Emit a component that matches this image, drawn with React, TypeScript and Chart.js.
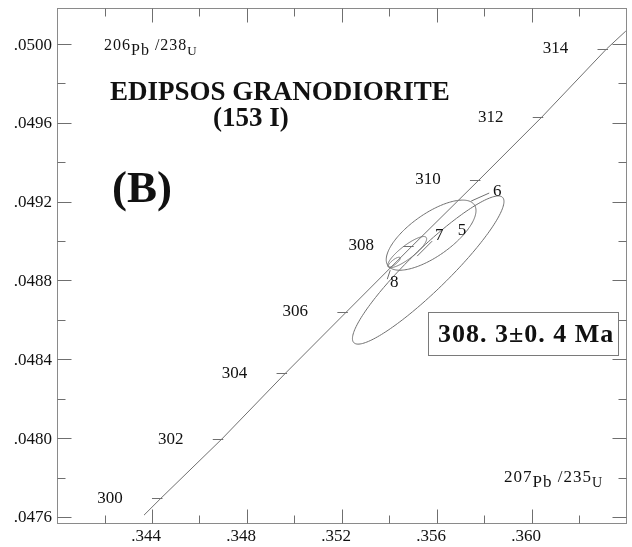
import React, { useEffect, useRef } from "react";
import { Chart, registerables } from "chart.js";

Chart.register(...registerables);

// ---- axis ticks ----
const xTickValues = [0.344, 0.348, 0.352, 0.356, 0.36];
const xTickLabels = [".344", ".348", ".352", ".356", ".360"];
const xMinorTicks = [0.342, 0.346, 0.35, 0.354, 0.358, 0.362];
const yTickValues = [0.0476, 0.048, 0.0484, 0.0488, 0.0492, 0.0496, 0.05];
const yTickLabels = [".0476", ".0480", ".0484", ".0488", ".0492", ".0496", ".0500"];
const yMinorTicks = [0.0478, 0.0482, 0.0486, 0.049, 0.0494, 0.0498];
const xRange = [0.34, 0.364];
const yRange = [0.047564, 0.050183];

// ---- concordia curve ----
const curveX = [0.343664, 0.344378, 0.346938, 0.349624, 0.352184, 0.354954, 0.357766, 0.36041, 0.363138, 0.36395];
const curveY = [0.047609, 0.047695, 0.047995, 0.04833, 0.04864, 0.048975, 0.04931, 0.049629, 0.049975, 0.050066];
const curveAge = ["", "300", "302", "304", "306", "308", "310", "312", "314", ""];

// ---- error ellipses ----
const ellipseNames = ["6", "5", "7", "8"];
const ellipseCX = [0.35563, 0.355752, 0.354744, 0.3542];
const ellipseCY = [0.048853, 0.04903, 0.048944, 0.048893];
const ellipseSX = [0.00319, 0.00189, 0.00082, 0.00025];
const ellipseSY = [0.000376, 0.000178, 0.000079, 0.000025];
const ellipseRho = [0.925, 0.7, 0.85, 0.8];

const titleLine1 = "EDIPSOS GRANODIORITE";
const titleLine2 = "(153 I)";
const panelLabel = "(B)";
const ageText = "308. 3\u00b10. 4 Ma";

const FONT = '"Liberation Serif", "Times New Roman", serif';
const LINE = "#6f6f6f";
const TEXT = "#111111";

// label offsets (pixels) relative to ellipse centers, and leader segments relative to label
const ellipseLabelOffset = [[69, -79], [31, -5], [32, -17], [0, 20]];
const ellipseLeader: (number[][] | null)[] = [
  [[-8, 2], [-26, 10]],
  null,
  [[-7, 6], [-22, 21]],
  [[-7, -3], [-4, -12]],
];

function drawIsotopeLabel(ctx: any, x: number, yBase: number, parts: [string, number, number][]) {
  let cx = x;
  ctx.letterSpacing = "1px";
  for (const [t, size, dy] of parts) {
    ctx.font = `${size}px ${FONT}`;
    ctx.fillText(t, cx, yBase + dy);
    cx += ctx.measureText(t).width;
  }
  ctx.letterSpacing = "0px";
}

const decor = {
  id: "decor",
  afterDatasetsDraw(chart: any) {
    const { ctx, chartArea: a, scales } = chart;
    const xs = scales.x;
    const ys = scales.y;
    const L = Math.round(a.left) + 0.5;
    const R = Math.round(a.right) - 0.5;
    const T = Math.round(a.top) + 0.5;
    const B = Math.round(a.bottom) - 0.5;
    ctx.save();

    // ellipses
    ctx.strokeStyle = LINE;
    ctx.lineWidth = 1;
    for (let i = 0; i < ellipseNames.length; i++) {
      const s = Math.sqrt(1 - ellipseRho[i] * ellipseRho[i]);
      ctx.beginPath();
      for (let k = 0; k <= 180; k++) {
        const t = (k / 180) * Math.PI * 2;
        const vx = ellipseCX[i] + ellipseSX[i] * Math.cos(t);
        const vy = ellipseCY[i] + ellipseSY[i] * (ellipseRho[i] * Math.cos(t) + s * Math.sin(t));
        const px = xs.getPixelForValue(vx);
        const py = ys.getPixelForValue(vy);
        if (k === 0) ctx.moveTo(px, py);
        else ctx.lineTo(px, py);
      }
      ctx.closePath();
      ctx.stroke();
    }

    // ellipse labels and leaders
    ctx.fillStyle = TEXT;
    ctx.textAlign = "center";
    ctx.textBaseline = "middle";
    ctx.font = `17px ${FONT}`;
    for (let i = 0; i < ellipseNames.length; i++) {
      const cx = xs.getPixelForValue(ellipseCX[i]) + ellipseLabelOffset[i][0];
      const cy = ys.getPixelForValue(ellipseCY[i]) + ellipseLabelOffset[i][1];
      ctx.fillText(ellipseNames[i], cx, cy);
      const ld = ellipseLeader[i];
      if (ld) {
        ctx.beginPath();
        ctx.moveTo(cx + ld[0][0], cy + ld[0][1]);
        ctx.lineTo(cx + ld[1][0], cy + ld[1][1]);
        ctx.stroke();
      }
    }

    // concordia age ticks and labels
    for (let i = 0; i < curveX.length; i++) {
      if (!curveAge[i]) continue;
      const px = xs.getPixelForValue(curveX[i]);
      const py = ys.getPixelForValue(curveY[i]);
      ctx.beginPath();
      ctx.moveTo(px - 9, Math.round(py) + 0.5);
      ctx.lineTo(px + 1.5, Math.round(py) + 0.5);
      ctx.stroke();
      ctx.fillText(curveAge[i], px - 51, py);
    }

    // frame
    ctx.strokeStyle = "#8a8a8a";
    ctx.strokeRect(L, T, R - L, B - T);

    // ticks (inside)
    ctx.strokeStyle = LINE;
    const drawX = (v: number, len: number) => {
      const px = Math.round(xs.getPixelForValue(v)) + 0.5;
      ctx.beginPath();
      ctx.moveTo(px, B);
      ctx.lineTo(px, B - len);
      ctx.moveTo(px, T);
      ctx.lineTo(px, T + len);
      ctx.stroke();
    };
    const drawY = (v: number, len: number) => {
      const py = Math.round(ys.getPixelForValue(v)) + 0.5;
      ctx.beginPath();
      ctx.moveTo(L, py);
      ctx.lineTo(L + len, py);
      ctx.moveTo(R, py);
      ctx.lineTo(R - len, py);
      ctx.stroke();
    };
    xTickValues.forEach((v) => drawX(v, 14));
    xMinorTicks.forEach((v) => drawX(v, 8));
    yTickValues.forEach((v) => drawY(v, 14));
    yMinorTicks.forEach((v) => drawY(v, 8));

    // tick labels
    ctx.fillStyle = TEXT;
    ctx.font = `17px ${FONT}`;
    ctx.textAlign = "center";
    ctx.textBaseline = "middle";
    xTickValues.forEach((v, i) => {
      ctx.fillText(xTickLabels[i], xs.getPixelForValue(v) - 6, a.bottom + 13);
    });
    ctx.textAlign = "right";
    yTickValues.forEach((v, i) => {
      ctx.fillText(yTickLabels[i], a.left - 5, ys.getPixelForValue(v) + 1);
    });

    // axis ratio labels
    ctx.textAlign = "left";
    ctx.textBaseline = "alphabetic";
    drawIsotopeLabel(ctx, 104, 50, [["206", 16, 0], ["Pb", 16, 5], [" /238", 16, 0], ["U", 13, 5]]);
    drawIsotopeLabel(ctx, 504, 482, [["207", 17, 0], ["Pb", 17, 5], [" /235", 17, 0], ["U", 14, 5]]);

    // titles
    ctx.font = `bold 27px ${FONT}`;
    ctx.fillText(titleLine1, 110, 100);
    ctx.fillText(titleLine2, 213, 126);
    ctx.font = `bold 45px ${FONT}`;
    ctx.fillText(panelLabel, 112, 202);

    // age box
    ctx.fillStyle = "#ffffff";
    ctx.fillRect(428.5, 312.5, 190, 43);
    ctx.strokeStyle = "#7a7a7a";
    ctx.strokeRect(428.5, 312.5, 190, 43);
    ctx.fillStyle = TEXT;
    ctx.font = `bold 26px ${FONT}`;
    ctx.letterSpacing = "1px";
    ctx.fillText(ageText, 438, 342);
    ctx.letterSpacing = "0px";

    ctx.restore();
  },
};

export default function App() {
  const ref = useRef<HTMLCanvasElement | null>(null);
  useEffect(() => {
    if (!ref.current) return;
    const data = curveX.map((x, i) => ({ x, y: curveY[i] }));
    const chart = new Chart(ref.current, {
      type: "scatter",
      data: {
        datasets: [
          {
            data,
            showLine: true,
            borderColor: LINE,
            borderWidth: 1,
            pointRadius: 0,
            tension: 0,
          },
        ],
      },
      options: {
        animation: false,
        responsive: false,
        devicePixelRatio: 1,
        layout: { padding: { left: 57, top: 8, right: 5, bottom: 23 } },
        plugins: { legend: { display: false }, tooltip: { enabled: false } },
        scales: {
          x: { type: "linear", min: xRange[0], max: xRange[1], display: false },
          y: { type: "linear", min: yRange[0], max: yRange[1], display: false },
        },
      },
      plugins: [decor],
    } as any);
    return () => chart.destroy();
  }, []);
  return (
    <div style={{ position: "fixed", left: 0, top: 0, width: 632, height: 547, background: "#fff" }}>
      <canvas ref={ref} width={632} height={547} style={{ display: "block" }} />
    </div>
  );
}
